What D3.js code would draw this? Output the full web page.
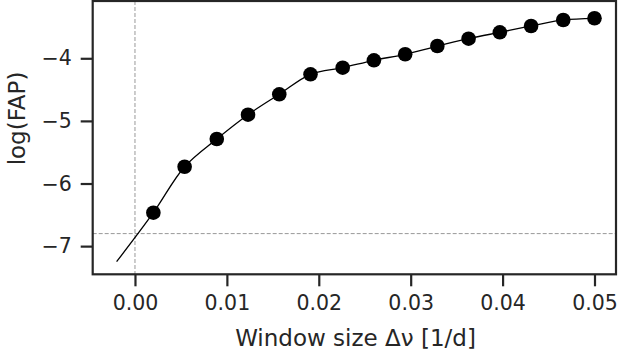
<!DOCTYPE html>
<head>
  <meta charset="utf-8">
  <script src="https://d3js.org/d3.v7.min.js"></script>
  <style>
    body { margin: 0; background: #fff; }
    svg { display: block; }
    text { font-family: "DejaVu Sans", sans-serif; fill: #262626; }
  </style>
</head>
<body>
  <svg width="619" height="358"></svg>
  <script>
    // data
    var windowSize = [0.0020, 0.0054, 0.0089, 0.0123, 0.0157, 0.0191, 0.0226, 0.0260,
                      0.0294, 0.0329, 0.0363, 0.0397, 0.0431, 0.0466, 0.0500];
    var logFap = [-6.466, -5.732, -5.289, -4.901, -4.575, -4.256, -4.150, -4.032,
                  -3.936, -3.804, -3.687, -3.585, -3.484, -3.388, -3.361];
    // fitted curve starts a bit left of the first point
    var curveX = [-0.0020].concat(windowSize);
    var curveY = [-7.249].concat(logFap);
    var xTicks = [0.00, 0.01, 0.02, 0.03, 0.04, 0.05];
    var yTicks = [-7, -6, -5, -4];
    var fapLimit = -6.80;

    // layout
    var plot = { left: 92.7, right: 616, top: 1, bottom: 274.3 };

    var x = d3.scaleLinear().domain([-0.0046, 0.05234]).range([plot.left, plot.right]);
    var y = d3.scaleLinear().domain([-7.45, -3.085]).range([plot.bottom, plot.top]);

    var svg = d3.select('svg');
    var ink = '#262626';

    // reference lines
    svg.append('line')
      .attr('x1', x(0)).attr('x2', x(0))
      .attr('y1', plot.top).attr('y2', plot.bottom)
      .attr('stroke', '#999').attr('stroke-width', 1)
      .attr('stroke-dasharray', '4,2');
    svg.append('line')
      .attr('x1', plot.left).attr('x2', plot.right)
      .attr('y1', y(fapLimit)).attr('y2', y(fapLimit))
      .attr('stroke', '#999').attr('stroke-width', 1)
      .attr('stroke-dasharray', '4,2');

    // curve
    var line = d3.line()
      .x(function(d, i) { return x(curveX[i]); })
      .y(function(d, i) { return y(curveY[i]); })
      .curve(d3.curveCatmullRom.alpha(0.5));
    svg.append('path')
      .attr('d', line(curveX))
      .attr('fill', 'none')
      .attr('stroke', '#000')
      .attr('stroke-width', 1.3);

    // points
    svg.selectAll('circle')
      .data(windowSize)
      .enter().append('circle')
      .attr('cx', function(d) { return x(d); })
      .attr('cy', function(d, i) { return y(logFap[i]); })
      .attr('r', 7.3)
      .attr('fill', '#000');

    // frame
    svg.append('rect')
      .attr('x', plot.left).attr('y', plot.top)
      .attr('width', plot.right - plot.left).attr('height', plot.bottom - plot.top)
      .attr('fill', 'none').attr('stroke', ink).attr('stroke-width', 2.2);

    // axes
    var xAxis = d3.axisBottom(x)
      .tickValues(xTicks)
      .tickFormat(d3.format('.2f'))
      .tickSize(12).tickPadding(9);
    var yAxis = d3.axisLeft(y)
      .tickValues(yTicks)
      .tickFormat(function(d) { return '\u2212' + Math.abs(d); })
      .tickSize(12).tickPadding(9);

    var gx = svg.append('g')
      .attr('transform', 'translate(0,' + plot.bottom + ')')
      .call(xAxis);
    var gy = svg.append('g')
      .attr('transform', 'translate(' + plot.left + ',0)')
      .call(yAxis);
    [gx, gy].forEach(function(g) {
      g.select('.domain').remove();
      g.selectAll('line').attr('stroke', ink).attr('stroke-width', 2.2);
      g.selectAll('text').attr('font-size', 20.5).attr('fill', ink)
        .attr('font-family', '"DejaVu Sans", sans-serif');
    });

    // labels
    svg.append('text')
      .attr('x', 355.5)
      .attr('y', 346)
      .attr('text-anchor', 'middle')
      .attr('font-size', 23)
      .text('Window size \u0394\u03bd [1/d]');
    svg.append('text')
      .attr('transform', 'translate(25,' + 118.5 + ') rotate(-90)')
      .attr('text-anchor', 'middle')
      .attr('font-size', 23)
      .text('log(FAP)');
  </script>
</body>
